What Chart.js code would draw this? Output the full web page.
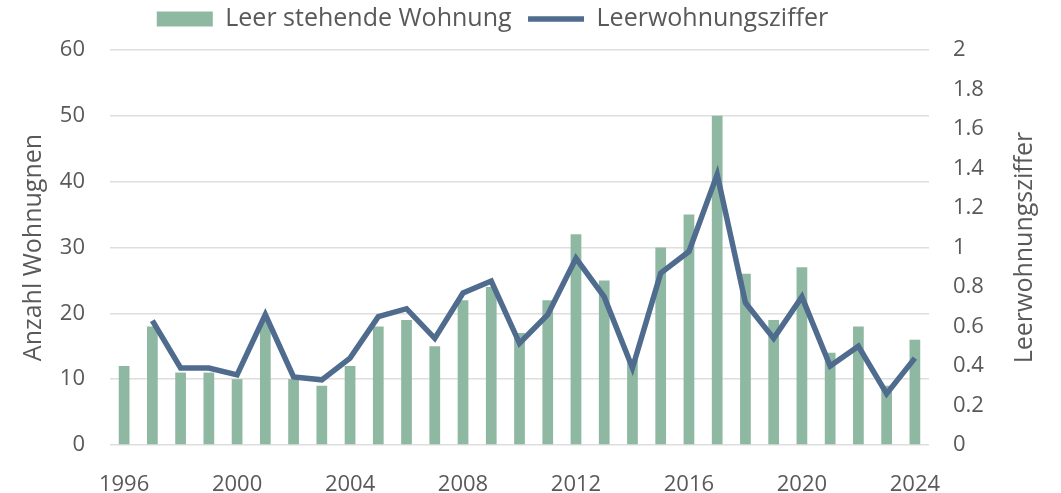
<!DOCTYPE html>
<html>
<head>
<meta charset="utf-8">
<script src="https://cdn.jsdelivr.net/npm/chart.js@4"></script>
<style>
  html, body { margin: 0; padding: 0; background: #fff; }
  #wrap { width: 1061px; height: 493px; }
</style>
</head>
<body>
<div id="wrap"><canvas id="myChart" width="1061" height="493"></canvas></div>
<script>
// years 1996 - 2024
const years = [1996, 1997, 1998, 1999, 2000, 2001, 2002, 2003, 2004, 2005,
  2006, 2007, 2008, 2009, 2010, 2011, 2012, 2013, 2014, 2015,
  2016, 2017, 2018, 2019, 2020, 2021, 2022, 2023, 2024];

// Leer stehende Wohnungen (left axis)
const leereWohnungen = [12, 18, 11, 11, 10, 19, 10, 9, 12, 18,
  19, 15, 22, 24, 17, 22, 32, 25, 13, 30,
  35, 50, 26, 19, 27, 14, 18, 9, 16];

// Leerwohnungsziffer (right axis), no value for 1996
const ziffer = [null, 0.63, 0.39, 0.39, 0.355, 0.66, 0.345, 0.33, 0.44, 0.65,
  0.69, 0.54, 0.77, 0.83, 0.515, 0.66, 0.945, 0.75, 0.39, 0.87,
  0.98, 1.37, 0.72, 0.54, 0.75, 0.40, 0.50, 0.26, 0.44];

const grey = '#595959';
const font = 'Open Sans';
const rightTitle = 'Leerwohnungsziffer';

// right axis title reads bottom to top like the left one, chart.js turns it the other way
const rightTitlePlugin = {
  id: 'rightTitle',
  afterDraw(chart) {
    const s = chart.scales.y1;
    const c = chart.ctx;
    c.save();
    c.translate(s.right - 36, (s.top + s.bottom) / 2);
    c.rotate(-Math.PI / 2);
    c.fillStyle = grey;
    c.font = '25px "' + font + '"';
    c.textAlign = 'center';
    c.textBaseline = 'middle';
    c.fillText(rightTitle, 0, 0);
    c.restore();
  }
};

// legend sits a bit left of the middle and higher up in the original
const legendShift = {
  id: 'legendShift',
  afterLayout(chart) {
    const l = chart.legend;
    l.left -= 38;
    l.right -= 38;
    l.top -= 8.5;
    l.bottom -= 8.5;
  }
};

let ctx = document.getElementById('myChart').getContext('2d');
let chart = new Chart(ctx, {
  type: 'bar',
  data: {
    labels: years,
    datasets: [
      {
        label: 'Leer stehende Wohnung',
        data: leereWohnungen,
        backgroundColor: '#8fb8a2',
        borderWidth: 0,
        barPercentage: 0.38,
        categoryPercentage: 1,
        pointStyle: 'rect',
        yAxisID: 'y',
        order: 1
      },
      {
        type: 'line',
        label: 'Leerwohnungsziffer',
        data: ziffer,
        borderColor: '#4f6b8d',
        backgroundColor: '#4f6b8d',
        borderWidth: 5.5,
        pointRadius: 0,
        pointStyle: 'line',
        tension: 0,
        yAxisID: 'y1',
        order: 0
      }
    ]
  },
  plugins: [rightTitlePlugin, legendShift],
  options: {
    responsive: false,
    animation: false,
    layout: { padding: { left: 0, right: 0, top: -1.5, bottom: 0 } },
    plugins: {
      tooltip: { enabled: false },
      legend: {
        position: 'top',
        labels: {
          usePointStyle: true,
          pointStyleWidth: 56,
          boxHeight: 15,
          padding: 16.5,
          color: grey,
          font: { family: font, size: 25 },
          sort: (a, b) => a.datasetIndex - b.datasetIndex
        }
      }
    },
    scales: {
      x: {
        grid: { display: false },
        border: { display: false },
        afterFit: (s) => { s.height = 48; },
        ticks: {
          autoSkip: false,
          maxRotation: 0,
          color: grey,
          padding: 19,
          font: { family: font, size: 22 },
          callback: function(val, i) {
            return (years[i] - 1996) % 4 === 0 ? years[i] : '';
          }
        }
      },
      y: {
        position: 'left',
        min: 0,
        max: 60,
        afterFit: (s) => { s.width = 110; },
        ticks: { stepSize: 10, color: grey, padding: 25, font: { family: font, size: 22 } },
        grid: { color: '#dedede', lineWidth: 1.5, drawTicks: false },
        border: { display: false },
        title: {
          display: true, text: 'Anzahl Wohnugnen', color: grey,
          padding: { top: 19, bottom: 0 },
          font: { family: font, size: 25 }
        }
      },
      y1: {
        position: 'right',
        min: 0,
        max: 2,
        afterFit: (s) => { s.width = 132; },
        ticks: {
          stepSize: 0.2, color: grey, padding: 24, font: { family: font, size: 22 },
          callback: (v) => +v.toFixed(1)
        },
        grid: { display: false, drawTicks: false },
        border: { display: false }
      }
    }
  }
});
</script>
</body>
</html>
